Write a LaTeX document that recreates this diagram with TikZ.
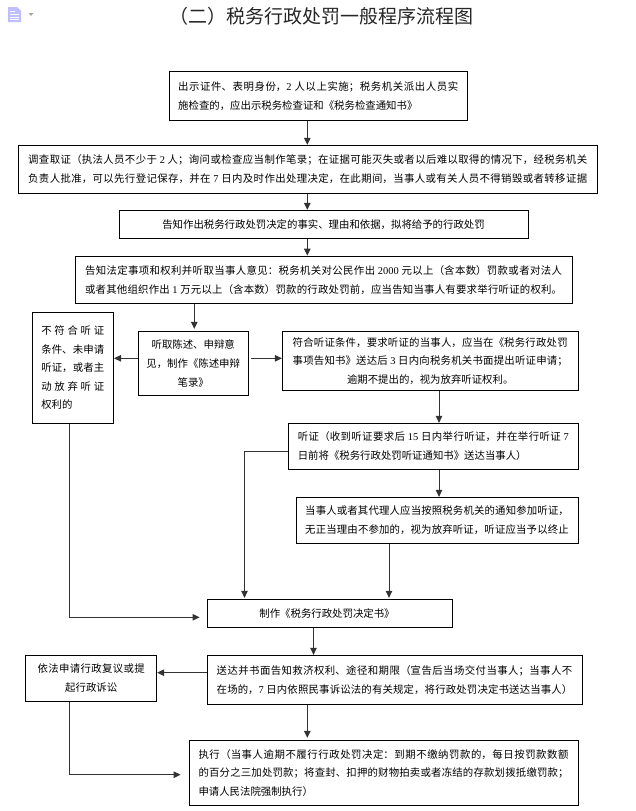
\documentclass[tikz,border=0pt]{standalone}
\usepackage{fontspec}
\setmainfont{Noto Sans CJK SC}
\newfontfamily\latn{Liberation Serif}
\usetikzlibrary{arrows.meta}
\XeTeXlinebreaklocale "zh"
\XeTeXlinebreakskip=0pt plus 1pt minus 0.35pt
\tolerance=9999 \hbadness=10000 \hfuzz=20pt
\newcommand\Dg[1]{{\latn #1}}
\newcommand\Jl[1]{{\parfillskip=0pt\noindent #1\par}}
\newcommand\Ll[1]{{\parfillskip=0pt plus 1fil\noindent #1\par}}
\newcommand\Cl[1]{{\leftskip=0pt plus 1fil\rightskip=0pt plus 1fil\parfillskip=0pt\noindent #1\par}}
\tikzset{
  x=1pt,y=-1pt,
  fbox/.style={draw=black,line width=0.9pt,inner sep=0pt,align=justify,text=black,
    font=\fontsize{10.4}{19}\selectfont},
  arr/.style={draw=black!80,line width=1pt,-{Triangle[length=7pt,width=6.5pt]}},
}
\begin{document}
\begin{tikzpicture}
\useasboundingbox (0,0) rectangle (635,811);
% document icon
\fill[blue!25!white] (8,7) -- (17,7) -- (21,11) -- (21,22) -- (8,22) -- cycle;
\draw[white,line width=0.8pt] (10,11) -- (15,11) (10,14) -- (19,14) (10,17) -- (19,17) (10,19.5) -- (19,19.5);
\fill[black!35] (28.5,13) -- (33.5,13) -- (31,16) -- cycle;
\node[inner sep=0pt,text=black!85,font=\fontsize{19}{20}\selectfont] (title) at (321.5,16.5) {（二）税务行政处罚一般程序流程图};
\node[fbox,text width=280pt,minimum width=298pt,minimum height=49pt] (b1) at (318.2,95.8) {%
\Jl{出示证件、表明身份，\Dg{2} 人以上实施；税务机关派出人员实}%
\Ll{施检查的，应出示税务检查证和《税务检查通知书》}};
\node[fbox,text width=559pt,minimum width=578.6pt,minimum height=48pt] (b2) at (307.7,169.3) {%
\Jl{调查取证（执法人员不少于 \Dg{2} 人；询问或检查应当制作笔录；在证据可能灭失或者以后难以取得的情况下，经税务机关}%
\Jl{负责人批准，可以先行登记保存，并在 \Dg{7} 日内及时作出处理决定，在此期间，当事人或有关人员不得销毁或者转移证据}};
\node[fbox,text width=390pt,minimum width=409pt,minimum height=28.4pt] (b3) at (323.5,224.5) {%
\Cl{告知作出税务行政处罚决定的事实、理由和依据，拟将给予的行政处罚}};
\node[fbox,text width=477pt,minimum width=497pt,minimum height=47.7pt] (b4) at (323.5,279.9) {%
\Jl{告知法定事项和权利并听取当事人意见：税务机关对公民作出 \Dg{2000} 元以上（含本数）罚款或者对法人}%
\Jl{或者其他组织作出 \Dg{1} 万元以上（含本数）罚款的行政处罚前，应当告知当事人有要求举行听证的权利。}};
\node[fbox,text width=63pt,minimum width=81.5pt,minimum height=111pt,font=\fontsize{10.4}{18.4}\selectfont] (b5) at (72.8,367.8) {%
\Jl{不符合听证}\Jl{条件、未申请}\Jl{听证，或者主}\Jl{动放弃听证}\Ll{权利的}};
\node[fbox,text width=95pt,minimum width=110.5pt,minimum height=64.4pt,font=\fontsize{10.4}{18.7}\selectfont] (b6) at (193.2,363.5) {%
\Cl{听取陈述、申辩意}\Cl{见，制作《陈述申辩}\Cl{笔录》}};
\node[fbox,text width=275pt,minimum width=295.6pt,minimum height=59.4pt,font=\fontsize{10.4}{18.7}\selectfont] (b7) at (430.2,361) {%
\Jl{符合听证条件，要求听证的当事人，应当在《税务行政处罚}%
\Jl{事项告知书》送达后 \Dg{3} 日内向税务机关书面提出听证申请；}%
\Cl{逾期不提出的，视为放弃听证权利。}};
\node[fbox,text width=271pt,minimum width=289.4pt,minimum height=46pt] (b8) at (433.3,446.3) {%
\Jl{听证（收到听证要求后 \Dg{15} 日内举行听证，并在举行听证 \Dg{7}}%
\Ll{日前将《税务行政处罚听证通知书》送达当事人）}};
\node[fbox,text width=263.6pt,minimum width=282pt,minimum height=46pt] (b9) at (437,520.3) {%
\Jl{当事人或者其代理人应当按照税务机关的通知参加听证，}%
\Jl{无正当理由不参加的，视为放弃听证，听证应当予以终止}};
\node[fbox,text width=220pt,minimum width=245pt,minimum height=28pt] (b10) at (329.5,613.3) {%
\Cl{制作《税务行政处罚决定书》\hspace*{5pt}}};
\node[fbox,text width=355.6pt,minimum width=375pt,minimum height=49pt] (b11) at (394.5,679.8) {%
\Jl{送达并书面告知救济权利、途径和期限（宣告后当场交付当事人；当事人不}%
\Jl{在场的，\Dg{7} 日内依照民事诉讼法的有关规定，将行政处罚决定书送达当事人）}};
\node[fbox,text width=107pt,minimum width=131pt,minimum height=46pt] (b12) at (91.2,678.3) {%
\Jl{依法申请行政复议或提}\Cl{起行政诉讼}};
\node[fbox,text width=370pt,minimum width=389pt,minimum height=65pt,font=\fontsize{10.4}{18.7}\selectfont] (b13) at (383.5,772.8) {%
\Jl{执行（当事人逾期不履行行政处罚决定：到期不缴纳罚款的，每日按罚款数额}%
\Jl{的百分之三加处罚款；将查封、扣押的财物拍卖或者冻结的存款划拨抵缴罚款；}%
\Ll{申请人民法院强制执行）}};
% routing columns and rows
\coordinate (xm) at (307.3,0);
\coordinate (xl) at (194.3,0);
\coordinate (xr) at (439,0);
\coordinate (xh) at (244.5,0);
\coordinate (xs) at (389,0);
\coordinate (xd) at (313.5,0);
\coordinate (xa) at (69,0);
\coordinate (y6) at (0,358.3);
\coordinate (yh) at (0,451.3);
\coordinate (y10) at (0,617.3);
\coordinate (y11) at (0,672.7);
\coordinate (y13) at (0,774.7);
\draw[arr] (b1.south -| xm) -- (b2.north -| xm);
\draw[arr] (b2.south -| xm) -- (b3.north -| xm);
\draw[arr] (b3.south -| xm) -- (b4.north -| xm);
\draw[arr,shorten >=2pt] (b4.south -| xl) -- (b6.north -| xl);
\draw[arr] (b6.west |- y6) -- (b5.east |- y6);
\draw[arr,shorten <=2pt] (b6.east |- y6) -- (b7.west |- y6);
\draw[arr] (b7.south -| xr) -- (b8.north -| xr);
\draw[arr] (b8.south -| xr) -- (b9.north -| xr);
\draw[arr,shorten >=1pt] (b8.west |- yh) -| (b10.north -| xh);
\draw[arr,shorten >=1pt] (b9.south -| xs) -- (b10.north -| xs);
\draw[arr,shorten >=7pt] (b5.south -| xa) |- (b10.west |- y10);
\draw[arr] (b10.south -| xd) -- (b11.north -| xd);
\draw[arr] (b11.west |- y11) -- (b12.east |- y11);
\draw[arr,shorten >=2pt] (b11.south -| xm) -- (b13.north -| xm);
\draw[arr,shorten >=8pt] (b12.south -| xa) |- (b13.west |- y13);
\end{tikzpicture}
\end{document}
